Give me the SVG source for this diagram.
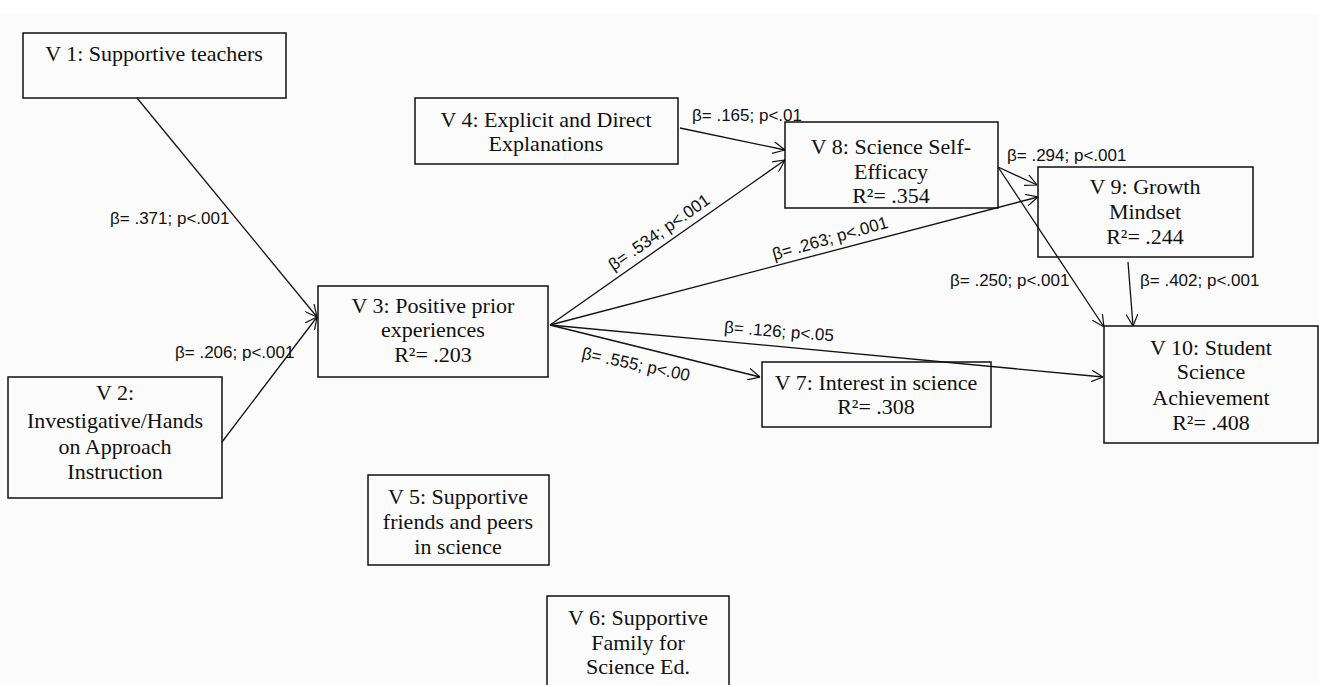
<svg xmlns="http://www.w3.org/2000/svg" width="1319" height="685" viewBox="0 0 1319 685">
<defs>
<style>
.box{fill:none;stroke:#111;stroke-width:1.5}
.nt{font-family:"Liberation Serif","Times New Roman",serif;font-size:22px;fill:#111;text-anchor:middle}
.lb{font-family:"Liberation Sans",Arial,sans-serif;font-size:17px;fill:#111}
.lbm{font-family:"Liberation Sans",Arial,sans-serif;font-size:17px;fill:#111;text-anchor:middle}
.ed{fill:none;stroke:#111;stroke-width:1.3}
</style>
<marker id="arr" viewBox="0 0 12 12" refX="12" refY="6" markerWidth="12" markerHeight="12" markerUnits="userSpaceOnUse" orient="auto">
<path d="M0,0 L12,6 L0,12" fill="none" stroke="#111" stroke-width="1.2"/>
</marker>
</defs>
<rect x="0" y="0" width="1319" height="685" fill="#fbfbfb"/>
<rect x="0" y="0" width="1319" height="14" fill="#ffffff"/>

<g id="connectors">
<line class="ed" x1="137" y1="98" x2="317" y2="317" marker-end="url(#arr)"/>
<line class="ed" x1="222" y1="442" x2="317" y2="317" marker-end="url(#arr)"/>
<line class="ed" x1="680" y1="128" x2="785" y2="150" marker-end="url(#arr)"/>
<line class="ed" x1="550" y1="325" x2="785" y2="160" marker-end="url(#arr)"/>
<line class="ed" x1="550" y1="325" x2="1038" y2="197" marker-end="url(#arr)"/>
<line class="ed" x1="550" y1="325" x2="1103" y2="377" marker-end="url(#arr)"/>
<line class="ed" x1="550" y1="325" x2="760" y2="377" marker-end="url(#arr)"/>
<line class="ed" x1="998" y1="167" x2="1037" y2="185" marker-end="url(#arr)"/>
<line class="ed" x1="998" y1="167" x2="1104" y2="327" marker-end="url(#arr)"/>
<line class="ed" x1="1128" y1="262" x2="1133" y2="326" marker-end="url(#arr)"/>
<text class="lb" x="110" y="224">β= .371; p&lt;.001</text>
<text class="lb" x="175" y="358">β= .206; p&lt;.001</text>
<text class="lb" x="692" y="121">β= .165; p&lt;.01</text>
<text class="lb" x="1007" y="161">β= .294; p&lt;.001</text>
<text class="lb" x="950" y="286">β= .250; p&lt;.001</text>
<text class="lb" x="1140" y="286">β= .402; p&lt;.001</text>
<text class="lbm" transform="translate(659,232) rotate(-35)" y="6">β= .534; p&lt;.001</text>
<text class="lbm" transform="translate(830,238) rotate(-16)" y="6">β= .263; p&lt;.001</text>
<text class="lbm" transform="translate(779,331) rotate(4.5)" y="6">β= .126; p&lt;.05</text>
<text class="lbm" transform="translate(636,364) rotate(12)" y="6">β= .555; p&lt;.00</text>
</g>

<g id="v1">
<rect class="box" x="23" y="33" width="263" height="65"/>
<text class="nt" x="154" y="61">V 1: Supportive teachers</text>
</g>
<g id="v2">
<rect class="box" x="8" y="377" width="214" height="121"/>
<text class="nt" x="115" y="400">V 2:</text>
<text class="nt" x="115" y="428">Investigative/Hands</text>
<text class="nt" x="115" y="454">on Approach</text>
<text class="nt" x="115" y="479">Instruction</text>
</g>
<g id="v3">
<rect class="box" x="318" y="286" width="230" height="91"/>
<text class="nt" x="433" y="313">V 3: Positive prior</text>
<text class="nt" x="433" y="337">experiences</text>
<text class="nt" x="433" y="362">R²= .203</text>
</g>
<g id="v4">
<rect class="box" x="415" y="98" width="263" height="66"/>
<text class="nt" x="546" y="127">V 4: Explicit and Direct</text>
<text class="nt" x="546" y="151">Explanations</text>
</g>
<g id="v5">
<rect class="box" x="368" y="475" width="181" height="90"/>
<text class="nt" x="458" y="504">V 5: Supportive</text>
<text class="nt" x="458" y="529">friends and peers</text>
<text class="nt" x="458" y="554">in science</text>
</g>
<g id="v6">
<rect class="box" x="547" y="596" width="182" height="110"/>
<text class="nt" x="638" y="625">V 6: Supportive</text>
<text class="nt" x="638" y="650">Family for</text>
<text class="nt" x="638" y="674">Science Ed.</text>
</g>
<g id="v7">
<rect class="box" x="762" y="362" width="229" height="65"/>
<text class="nt" x="876" y="390">V 7: Interest in science</text>
<text class="nt" x="876" y="414">R²= .308</text>
</g>
<g id="v8">
<rect class="box" x="785" y="122" width="213" height="86"/>
<text class="nt" x="891" y="154">V 8: Science Self-</text>
<text class="nt" x="891" y="179">Efficacy</text>
<text class="nt" x="891" y="203">R²= .354</text>
</g>
<g id="v9">
<rect class="box" x="1038" y="167" width="215" height="90"/>
<text class="nt" x="1145" y="194">V 9: Growth</text>
<text class="nt" x="1145" y="219">Mindset</text>
<text class="nt" x="1145" y="244">R²= .244</text>
</g>
<g id="v10">
<rect class="box" x="1104" y="326" width="214" height="117"/>
<text class="nt" x="1211" y="355">V 10: Student</text>
<text class="nt" x="1211" y="379">Science</text>
<text class="nt" x="1211" y="405">Achievement</text>
<text class="nt" x="1211" y="430">R²= .408</text>
</g>
</svg>
